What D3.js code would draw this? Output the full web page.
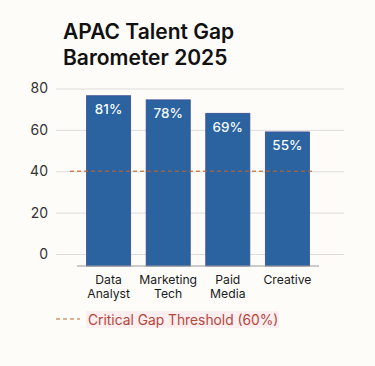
<!DOCTYPE html>
<html>
<head>
<meta charset="utf-8">
<script src="https://cdn.jsdelivr.net/npm/d3@7"></script>
<style>
  html, body { margin: 0; padding: 0; background: #fdfcf9; }
  svg { display: block; font-family: Inter, "Noto Sans", sans-serif; }
</style>
</head>
<body>
<svg id="vis" width="375" height="366"></svg>
<script>
// chart data
var categories = [["Data", "Analyst"], ["Marketing", "Tech"], ["Paid", "Media"], ["Creative"]];
var barValues = [76.5, 74.5, 68, 59];          // bar heights in axis units
var barLabels = ["81%", "78%", "69%", "55%"];  // labels printed on the bars
var yTicks = [0, 20, 40, 60, 80];
var thresholdValue = 40;
var thresholdLabel = "Critical Gap Threshold (60%)";
var titleLines = ["APAC Talent Gap", "Barometer 2025"];

var _vis = d3.select("#vis");

var x = d3.scaleBand()
    .domain(d3.range(categories.length))
    .range([77, 319])
    .paddingInner(0.26)
    .paddingOuter(0.16);

var y = d3.scaleLinear()
    .domain([0, 80])
    .range([254, 88.5]);

var baseY = 266; // the bars sit on the axis line, a bit below the 0 gridline

// title
_vis.append("g").selectAll("text")
    .data(titleLines)
    .enter().append("text")
    .attr("x", 63)
    .attr("y", (d, i) => 39 + i * 25.5)
    .attr("style", "font-size: 21px; font-weight: 600; fill: #111;")
    .text(d => d);

// y grid + labels
var yAxis = _vis.append("g")
    .attr("transform", "translate(56,0)")
    .call(d3.axisLeft(y).tickValues(yTicks).tickSize(-288).tickPadding(8));
yAxis.select(".domain").remove();
yAxis.selectAll(".tick line").attr("stroke", "#dcdcdc");
yAxis.selectAll(".tick text")
    .attr("style", "font-size: 14px; fill: #333; font-family: Inter, 'Noto Sans', sans-serif;");

// bars
var bars = _vis.selectAll("g.bar")
    .data(barValues)
    .enter().append("g")
    .attr("class", "bar");

bars.append("rect")
    .attr("x", (d, i) => x(i))
    .attr("y", d => y(d))
    .attr("width", x.bandwidth())
    .attr("height", d => baseY - y(d))
    .attr("fill", "#2b63a1")
    .attr("stroke", "#3a4b92")
    .attr("stroke-width", 0.8);

bars.append("text")
    .attr("x", (d, i) => x(i) + x.bandwidth() / 2)
    .attr("y", d => y(d) + 18.5)
    .attr("text-anchor", "middle")
    .attr("style", "font-size: 13.5px; font-weight: 500; fill: #f4fbff;")
    .text((d, i) => barLabels[i]);

// x axis line
_vis.append("line")
    .attr("x1", 77).attr("x2", 319)
    .attr("y1", baseY).attr("y2", baseY)
    .attr("stroke", "#9a9a9a")
    .attr("stroke-width", 1.2);

// category labels
var cats = _vis.selectAll("text.cat")
    .data(categories)
    .enter().append("text")
    .attr("class", "cat")
    .attr("text-anchor", "middle")
    .attr("style", "font-size: 12.2px; fill: #1a1a1a;");
cats.selectAll("tspan")
    .data((d, i) => d.map(s => ({ s: s, i: i })))
    .enter().append("tspan")
    .attr("x", d => x(d.i) + x.bandwidth() / 2)
    .attr("y", (d, j) => 284 + j * 14)
    .text(d => d.s);

// threshold line
_vis.append("line")
    .attr("x1", 70).attr("x2", 315)
    .attr("y1", y(thresholdValue)).attr("y2", y(thresholdValue))
    .attr("stroke", "#b8662e")
    .attr("stroke-opacity", 0.75)
    .attr("stroke-width", 1.3)
    .attr("stroke-dasharray", "4,3");

// legend
var legend = _vis.append("g");
legend.append("rect")
    .attr("x", 86).attr("y", 311)
    .attr("width", 193).attr("height", 17)
    .attr("fill", "#fdeef0");
legend.append("line")
    .attr("x1", 56).attr("x2", 80)
    .attr("y1", 319).attr("y2", 319)
    .attr("stroke", "#b8662e")
    .attr("stroke-width", 1.1)
    .attr("stroke-dasharray", "4,3");
legend.append("text")
    .attr("x", 88).attr("y", 325)
    .attr("style", "font-size: 13.8px; fill: #b5463a;")
    .text(thresholdLabel);
</script>
</body>
</html>
